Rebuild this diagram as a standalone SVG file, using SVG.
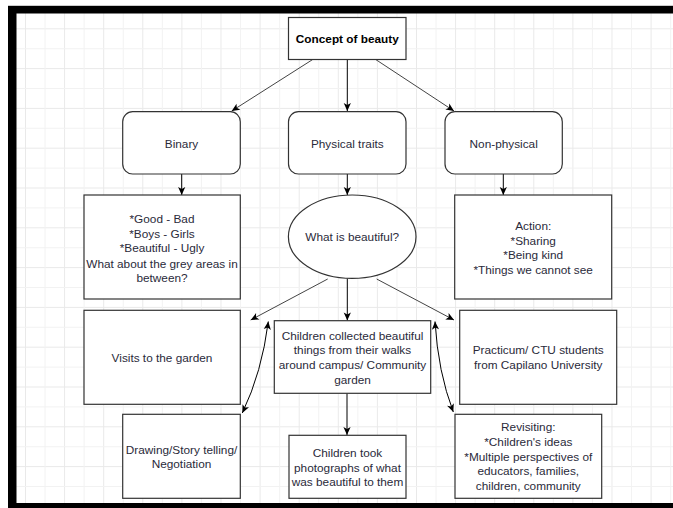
<svg xmlns="http://www.w3.org/2000/svg" width="673" height="508" viewBox="0 0 673 508">
<defs>
<pattern id="grid" patternUnits="userSpaceOnUse" x="25" y="28.3" width="39.1" height="39.8">
<path d="M0,0.5 H39.1 M0.5,0 V39.8" stroke="#e9e9e9" stroke-width="1" fill="none"/>
<path d="M0,20.4 H39.1 M20.05,0 V39.8" stroke="#f2f2f2" stroke-width="1" fill="none"/>
</pattern>
<marker id="arr" viewBox="0 0 10 10" refX="10" refY="5" markerWidth="9" markerHeight="8" markerUnits="userSpaceOnUse" orient="auto-start-reverse">
<path d="M0,0.5 L10,5 L0,9.5 L2.5,5 Z" fill="#000"/>
</marker>
<style>
.box{fill:#fff;stroke:#333;stroke-width:1.2}
.t{font-family:"Liberation Sans",Arial,sans-serif;font-size:11.8px;fill:#2a2a3a;text-anchor:middle}
.b{font-weight:bold;fill:#000}
.e{fill:none;stroke:#000;stroke-width:1;marker-end:url(#arr)}
.d{stroke:#444}
</style>
</defs>
<rect width="673" height="508" fill="#fff"/>
<rect x="16" y="13" width="657" height="490" fill="url(#grid)"/>
<g id="frame">
<rect x="8" y="5.5" width="665" height="1" fill="#999"/>
<rect x="8" y="6" width="665" height="7.5" fill="#000"/>
<rect x="8" y="6" width="8.5" height="502" fill="#000"/>
<rect x="8" y="503" width="665" height="5" fill="#000"/>
</g>
<g id="connectors">
<path class="e d" d="M312.7,59.5 L231.7,111"/>
<path class="e" d="M347.3,59.5 L347.3,111"/>
<path class="e d" d="M375.7,59.5 L454,111"/>
<path class="e" d="M181.7,174 L181.7,195"/>
<path class="e" d="M347.3,174 L347.3,195"/>
<path class="e" d="M503.3,174 L503.3,195"/>
<path class="e d" d="M327.7,279 L250.7,320"/>
<path class="e" d="M347.3,278.5 L347.3,320.5"/>
<path class="e d" d="M376.7,279 L454,320"/>
<path class="e" d="M347,393.3 L347,435"/>
<path class="e" style="marker-start:url(#arr)" d="M268.3,321.5 Q262,372 242.3,413"/>
<path class="e" style="marker-start:url(#arr)" d="M435,321.5 Q438,372 453.3,412"/>
</g>
<g id="concept"><rect class="box" x="288.5" y="17.5" width="117.5" height="42"/><text class="t b" x="347.3" y="43.3">Concept of beauty</text></g>
<g id="binary"><rect class="box" x="122.7" y="111.7" width="117.6" height="62.3" rx="10"/><text class="t" x="181.5" y="148">Binary</text></g>
<g id="physical"><rect class="box" x="288.5" y="111.7" width="117.5" height="62.3" rx="10"/><text class="t" x="347.3" y="148">Physical traits</text></g>
<g id="nonphysical"><rect class="box" x="445" y="111.7" width="117.3" height="62.3" rx="10"/><text class="t" x="503.7" y="148">Non-physical</text></g>
<g id="binarylist"><rect class="box" x="84" y="195" width="156.3" height="104"/>
<text class="t" x="162" y="222.6">*Good - Bad</text>
<text class="t" x="162" y="237.5">*Boys - Girls</text>
<text class="t" x="162" y="252">*Beautiful - Ugly</text>
<text class="t" x="162" y="267.5">What about the grey areas in</text>
<text class="t" x="162" y="281.6">between?</text></g>
<g id="whatis"><ellipse class="box" cx="352.2" cy="236.7" rx="63.8" ry="41.7"/><text class="t" x="352.2" y="241">What is beautiful?</text></g>
<g id="action"><rect class="box" x="454.7" y="195" width="157" height="104"/>
<text class="t" x="533.2" y="230.3">Action:</text>
<text class="t" x="533.2" y="244.6">*Sharing</text>
<text class="t" x="533.2" y="259.3">*Being kind</text>
<text class="t" x="533.2" y="274.3">*Things we cannot see</text></g>
<g id="visits"><rect class="box" x="84" y="310.3" width="156.3" height="94"/><text class="t" x="162" y="361.6">Visits to the garden</text></g>
<g id="collected"><rect class="box" x="274.3" y="320.7" width="156.4" height="72.6"/>
<text class="t" x="352.5" y="340">Children collected beautiful</text>
<text class="t" x="352.5" y="354.3">things from their walks</text>
<text class="t" x="352.5" y="369.3">around campus/ Community</text>
<text class="t" x="352.5" y="383.6">garden</text></g>
<g id="practicum"><rect class="box" x="459.7" y="310.3" width="157" height="94"/>
<text class="t" x="538.2" y="354.3">Practicum/ CTU students</text>
<text class="t" x="538.2" y="369.3">from Capilano University</text></g>
<g id="drawing"><rect class="box" x="122.7" y="414.3" width="117.6" height="84"/>
<text class="t" x="181.5" y="454.3">Drawing/Story telling/</text>
<text class="t" x="181.5" y="468.3">Negotiation</text></g>
<g id="photos"><rect class="box" x="289" y="435.3" width="117" height="63"/>
<text class="t" x="347.5" y="457">Children took</text>
<text class="t" x="347.5" y="471.6">photographs of what</text>
<text class="t" x="347.5" y="486">was beautiful to them</text></g>
<g id="revisiting"><rect class="box" x="455" y="414.3" width="146.7" height="84"/>
<text class="t" x="528.3" y="431">Revisiting:</text>
<text class="t" x="528.3" y="446">*Children's ideas</text>
<text class="t" x="528.3" y="461">*Multiple perspectives of</text>
<text class="t" x="528.3" y="475.3">educators, families,</text>
<text class="t" x="528.3" y="490">children, community</text></g>
</svg>
